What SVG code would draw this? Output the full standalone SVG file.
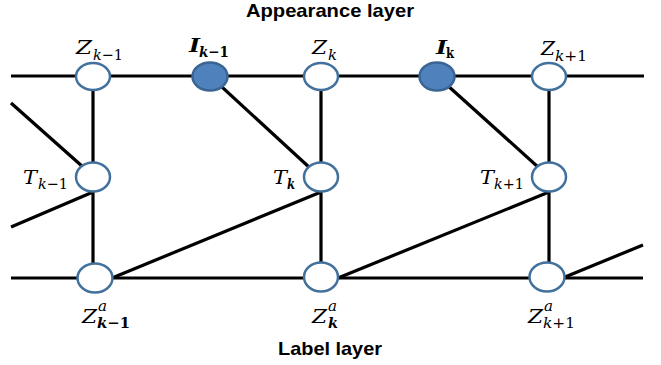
<svg xmlns="http://www.w3.org/2000/svg" width="661" height="365" viewBox="0 0 661 365">
  <style>
    .edge { stroke: #000; stroke-width: 3.2; fill: none; stroke-linecap: butt; }
    .node { fill: #fff; stroke: #41719c; stroke-width: 2.5; }
    .obs { fill: #4f81bd; stroke: #3a6594; stroke-width: 2.5; }
    .title { font-family: "Liberation Sans", Arial, sans-serif; font-weight: bold; font-size: 19px; fill: #000; }
    .m { font-family: "DejaVu Serif", "Liberation Serif", serif; font-size: 18px; font-style: italic; fill: #000; }
    .s { font-family: "DejaVu Serif", "Liberation Serif", serif; font-size: 15px; fill: #000; }
    .it { font-style: italic; }
    .b { font-weight: bold; }
  </style>
  <rect width="661" height="365" fill="#fff"/>

  <g id="connectors">
    <!-- appearance chain -->
    <line class="edge" x1="11" y1="76" x2="644" y2="76"/>
    <!-- label chain -->
    <line class="edge" x1="11" y1="278" x2="643" y2="278"/>
    <!-- vertical columns -->
    <line class="edge" x1="93" y1="76" x2="93" y2="278"/>
    <line class="edge" x1="321" y1="76" x2="321" y2="278"/>
    <line class="edge" x1="549" y1="76" x2="549" y2="278"/>
    <!-- observations to transforms -->
    <line class="edge" x1="210" y1="76" x2="310" y2="168"/>
    <line class="edge" x1="437" y1="76" x2="538" y2="167"/>
    <line class="edge" x1="11" y1="103" x2="83" y2="167"/>
    <!-- transforms to previous label -->
    <line class="edge" x1="93" y1="192" x2="11" y2="227"/>
    <line class="edge" x1="321" y1="192" x2="112" y2="278"/>
    <line class="edge" x1="549" y1="192" x2="338" y2="278"/>
    <line class="edge" x1="565" y1="277" x2="643" y2="245"/>
  </g>

  <g id="z-km1"><ellipse class="node" cx="93" cy="76.5" rx="17" ry="13.5"/></g>
  <g id="i-km1"><ellipse class="obs" cx="210" cy="76.5" rx="17.5" ry="14"/></g>
  <g id="z-k"><ellipse class="node" cx="321" cy="76.5" rx="17" ry="13.5"/></g>
  <g id="i-k"><ellipse class="obs" cx="437" cy="76.5" rx="17.5" ry="14"/></g>
  <g id="z-kp1"><ellipse class="node" cx="549" cy="76.5" rx="17" ry="13.5"/></g>

  <g id="t-km1"><ellipse class="node" cx="93" cy="177" rx="17" ry="14.5"/></g>
  <g id="t-k"><ellipse class="node" cx="321" cy="177" rx="17" ry="14.5"/></g>
  <g id="t-kp1"><ellipse class="node" cx="549" cy="177" rx="17" ry="14.5"/></g>

  <g id="za-km1"><ellipse class="node" cx="95" cy="278" rx="17.5" ry="14.5"/></g>
  <g id="za-k"><ellipse class="node" cx="321" cy="277" rx="17" ry="14.5"/></g>
  <g id="za-kp1"><ellipse class="node" cx="547" cy="277" rx="17.5" ry="14.5"/></g>

  <g id="labels">
    <text class="title" x="330" y="17" text-anchor="middle" textLength="168" lengthAdjust="spacingAndGlyphs">Appearance layer</text>
    <text class="title" x="330" y="355" text-anchor="middle" textLength="104" lengthAdjust="spacingAndGlyphs">Label layer</text>

    <!-- appearance row -->
    <text class="m" x="76" y="54" textLength="16" lengthAdjust="spacingAndGlyphs">Z</text>
    <text class="s" x="93" y="60" textLength="30" lengthAdjust="spacingAndGlyphs"><tspan class="it">k</tspan>−1</text>

    <text class="m b" x="189" y="52" textLength="11" lengthAdjust="spacingAndGlyphs">I</text>
    <text class="s b" x="199" y="57" textLength="30" lengthAdjust="spacingAndGlyphs"><tspan class="it">k</tspan>−1</text>

    <text class="m" x="312" y="54" textLength="15" lengthAdjust="spacingAndGlyphs">Z</text>
    <text class="s it" x="328" y="60" textLength="9" lengthAdjust="spacingAndGlyphs">k</text>

    <text class="m b" x="436" y="54" textLength="11" lengthAdjust="spacingAndGlyphs">I</text>
    <text class="s b" x="446" y="58" textLength="8" lengthAdjust="spacingAndGlyphs">k</text>

    <text class="m" x="541" y="55" textLength="14" lengthAdjust="spacingAndGlyphs">Z</text>
    <text class="s" x="555" y="61" textLength="32" lengthAdjust="spacingAndGlyphs"><tspan class="it">k</tspan>+1</text>

    <!-- transform row -->
    <text class="m" x="23" y="184" textLength="14" lengthAdjust="spacingAndGlyphs">T</text>
    <text class="s" x="38" y="189" textLength="30" lengthAdjust="spacingAndGlyphs"><tspan class="it">k</tspan>−1</text>

    <text class="m" x="273" y="184" textLength="14" lengthAdjust="spacingAndGlyphs">T</text>
    <text class="s it b" x="287" y="189" textLength="8" lengthAdjust="spacingAndGlyphs">k</text>

    <text class="m" x="480" y="184" textLength="14" lengthAdjust="spacingAndGlyphs">T</text>
    <text class="s" x="494" y="189" textLength="30" lengthAdjust="spacingAndGlyphs"><tspan class="it">k</tspan>+1</text>

    <!-- label row -->
    <text class="m" x="82" y="323" textLength="15" lengthAdjust="spacingAndGlyphs">Z</text>
    <text class="s it" x="98" y="311" textLength="9" lengthAdjust="spacingAndGlyphs">a</text>
    <text class="s b" x="97" y="328" textLength="33" lengthAdjust="spacingAndGlyphs"><tspan class="it">k</tspan>−1</text>

    <text class="m" x="312" y="323" textLength="15" lengthAdjust="spacingAndGlyphs">Z</text>
    <text class="s it" x="328" y="311" textLength="9" lengthAdjust="spacingAndGlyphs">a</text>
    <text class="s it b" x="328" y="328" textLength="10" lengthAdjust="spacingAndGlyphs">k</text>

    <text class="m" x="528" y="323" textLength="15" lengthAdjust="spacingAndGlyphs">Z</text>
    <text class="s it" x="544" y="311" textLength="9" lengthAdjust="spacingAndGlyphs">a</text>
    <text class="s" x="543" y="328" textLength="32" lengthAdjust="spacingAndGlyphs"><tspan class="it">k</tspan>+1</text>
  </g>
</svg>
